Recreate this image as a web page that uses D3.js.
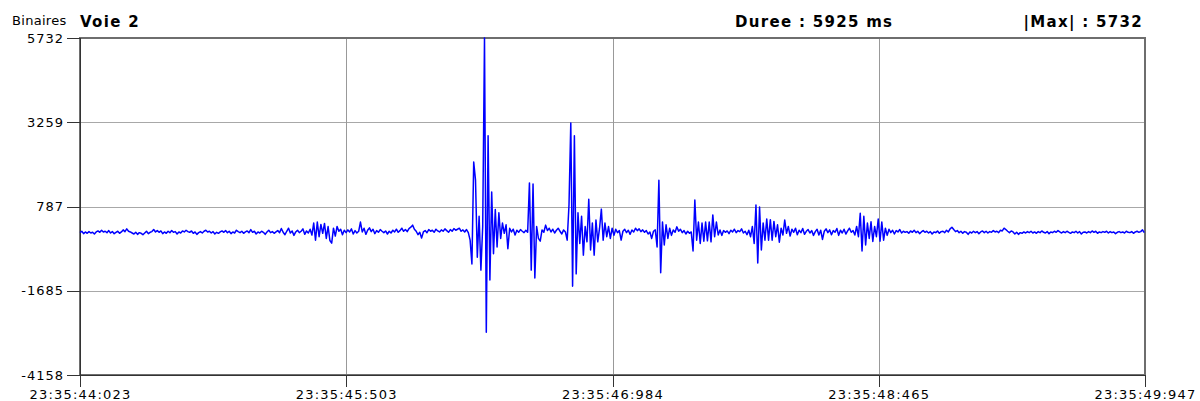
<!DOCTYPE html>
<html>
<head>
<meta charset="utf-8">
<script src="https://cdn.jsdelivr.net/npm/d3@7"></script>
<style>
  body { margin: 0; background: #fff; }
  svg { display: block; }
  text { font-family: "DejaVu Sans", sans-serif; fill: #000; }
</style>
</head>
<body>
<svg id="chart" width="1200" height="401"></svg>
<script>
// Channel header
const channelName = "Voie 2";
const unitLabel = "Binaires";
const durationMs = 5925;
const maxAbs = 5732;

// Time axis (ms from start) and its clock labels
const timeSpanMs = 5924;
const sampleStepMs = 10;
const xTicks = [0, 1481, 2962, 4443, 5924];
const xTickLabels = ["23:35:44:023", "23:35:45:503", "23:35:46:984", "23:35:48:465", "23:35:49:947"];

// Amplitude axis (counts)
const yMin = -4158;
const yMax = 5732;
const yTicks = [5732, 3259, 787, -1685, -4158];

// Recorded counts, one value every 10 ms (ten per row = 100 ms)
const samples = [
  20, 60, -10, 40, 0, 50, 10, 30, -20, 40,
  70, 30, 90, 40, 60, 20, 80, 10, 50, -10,
  30, 60, 0, 40, 100, 50, 130, 60, 40, 10,
  -20, 30, -30, 20, 0, -40, 10, 60, -10, 30,
  50, 110, 40, 80, 30, 70, -10, 40, 0, 60,
  20, 80, 30, 50, -20, 40, 10, 70, 40, 90,
  50, 30, 70, 0, 40, -30, 20, 50, 10, 60,
  90, 40, 60, 10, 50, -20, 30, 0, 40, 70,
  30, 80, 20, 60, -10, 40, 10, 90, 50, 20,
  60, 0, 40, 70, 20, 110, 30, 60, -20, 40,
  10, 60, 30, -30, 40, 90, 20, 50, 0, 40,
  80, 20, 140, 30, -40, 60, 150, 10, 70, -60,
  40, 90, 20, 60, 130, -30, 70, 10, 120, -50,
  300, -200, 330, -100, 260, 0, 290, -150, 200, -210,
  -290, 150, -80, 200, 60, 120, -40, 90, 20, 100,
  40, 130, -20, 80, 10, 60, 330, 40, 150, -30,
  90, 160, 50, 120, -10, 80, 30, 110, 60, 20,
  70, -20, 60, 10, 90, 40, 120, 30, 80, 150,
  60, 110, 50, 140, 180, 240, 120, 60, -40, 30,
  -140, 40, 80, 20, 110, 60, 90, 30, 120, 70,
  40, 100, 60, 130, 80, 30, 110, 60, 140, 90,
  120, 150, 60, 100, 40, 110, 20, -200, -900, 2090,
  1560, -700, 500, -1080, 200, 5732, -2900, 2860, -1370, 1210,
  -600, 700, -400, 600, -150, 300, 0, 250, -450, 150,
  40, 120, -50, 90, 30, 110, 60, 20, 90, 30,
  1480, -1080, 1450, -1310, 200, -150, -230, 100, 30, 240,
  80, 150, 40, 120, 10, 90, 150, 60, -20, 100,
  40, -200, 830, 3240, -1550, 2860, -1190, 600, -300, 500,
  -640, 200, -250, 1000, -490, 300, -640, 390, -250, 150,
  710, -200, 300, -100, 200, -150, 150, -60, 120, 20,
  80, -200, 60, 120, 20, 90, -30, 100, 40, 150,
  80, 130, 50, 100, 30, 80, -20, 40, -150, 60,
  100, -400, 1560, -1160, 330, -340, 250, -150, 150, -60,
  100, 30, 190, 60, 120, 20, 80, -20, 60, 0,
  40, -520, 980, -200, 330, -300, 300, -230, 330, -220,
  330, -250, 540, -100, 330, -50, 100, -60, 80, 30,
  70, -10, 90, 40, 120, 20, 80, 50, 130, 10,
  60, -40, 90, -100, 200, -300, 830, -870, 770, -490,
  300, -200, 420, -200, 400, -200, 350, -100, 250, -260,
  150, -50, 390, 0, 200, -80, 120, 30, 150, -40,
  90, 20, 140, -30, 60, 110, 10, 80, -60, 50,
  120, -50, 90, -180, 60, 130, 20, 100, -40, 80,
  30, 140, -60, 90, 10, 120, -20, 70, 150, 30,
  80, -50, 200, -100, 590, -520, 500, -340, 300, -150,
  340, -240, 200, -100, 420, -230, 330, -200, 150, -60,
  120, 20, 90, -20, 80, 40, 110, 10, 60, 30,
  50, 0, 70, 30, 90, 20, 60, -10, 40, 80,
  30, 60, 10, 50, -20, 40, 20, 70, 0, 50,
  60, 20, 90, 40, 130, 180, 110, 50, 80, 20,
  60, 0, 50, 30, -30, 40, 10, 60, 20, 50,
  -10, 40, 70, 20, 60, 10, 50, 30, 80, 40,
  60, 20, 90, 70, 150, 110, 60, 20, 70, 40,
  -20, 30, -30, 20, 0, 40, 10, 50, 20, 60,
  10, 40, 0, 50, 20, 70, 30, 10, 50, -10,
  40, 20, 60, 30, 80, 40, 10, 50, 20, 60,
  30, 0, 40, 20, 60, 10, 50, -20, 30, 40,
  10, 50, 20, 70, 30, 60, 0, 40, 20, 50,
  30, 60, 10, 50, 20, 40, -10, 30, 50, 20,
  40, 10, 60, 30, 20, 50, 0, 40, 60, 30,
  50, 100, 20
];

const svg = d3.select("#chart");
const plot = { left: 80, right: 1145, top: 38, bottom: 375 };

const x = d3.scaleLinear().domain([0, timeSpanMs]).range([plot.left, plot.right]);
const y = d3.scaleLinear().domain([yMin, yMax]).range([plot.bottom, plot.top]);

// Grid lines
const grid = svg.append("g").attr("shape-rendering", "crispEdges");
grid.selectAll("line.h")
  .data(yTicks.slice(1, -1))
  .join("line")
  .attr("x1", plot.left).attr("x2", plot.right)
  .attr("y1", d => Math.round(y(d))).attr("y2", d => Math.round(y(d)))
  .attr("stroke", "#a8a8a8");
grid.selectAll("line.v")
  .data(xTicks.slice(1, -1))
  .join("line")
  .attr("x1", d => Math.round(x(d))).attr("x2", d => Math.round(x(d)))
  .attr("y1", plot.top).attr("y2", plot.bottom)
  .attr("stroke", "#999");

// Frame
svg.append("rect")
  .attr("x", plot.left).attr("y", plot.top)
  .attr("width", plot.right - plot.left).attr("height", plot.bottom - plot.top)
  .attr("fill", "none").attr("stroke", "#6e6e6e").attr("stroke-width", 1.3)
  .attr("shape-rendering", "crispEdges");

// Axes
const yAxis = d3.axisLeft(y)
  .tickValues(yTicks)
  .tickFormat(d => String(d))
  .tickSize(13)
  .tickPadding(3);
const gy = svg.append("g")
  .attr("transform", `translate(${plot.left},0)`)
  .call(yAxis);
gy.select(".domain").attr("stroke", "#333").attr("shape-rendering", "crispEdges");
gy.selectAll(".tick line").attr("stroke", "#333").attr("shape-rendering", "crispEdges");
gy.selectAll(".tick text")
  .attr("font-size", 13).attr("letter-spacing", "1px")
  .attr("font-family", "DejaVu Sans").attr("fill", "#000");

const xAxis = d3.axisBottom(x)
  .tickValues(xTicks)
  .tickFormat((d, i) => xTickLabels[i])
  .tickSize(12)
  .tickPadding(3);
const gx = svg.append("g")
  .attr("transform", `translate(0,${plot.bottom})`)
  .call(xAxis);
gx.select(".domain").attr("stroke", "#333").attr("shape-rendering", "crispEdges");
gx.selectAll(".tick line").attr("stroke", "#333").attr("shape-rendering", "crispEdges");
gx.selectAll(".tick text")
  .attr("font-size", 13).attr("letter-spacing", "1.2px")
  .attr("font-family", "DejaVu Sans").attr("fill", "#000");

// Waveform
const line = d3.line()
  .x((d, i) => x(i * sampleStepMs))
  .y(d => y(d));
svg.append("path")
  .datum(samples)
  .attr("d", line)
  .attr("fill", "none")
  .attr("stroke", "#0000ff")
  .attr("stroke-width", 1.5)
  .attr("stroke-linejoin", "round");

// Header
svg.append("text").attr("x", 12).attr("y", 25)
  .attr("font-size", 13).attr("letter-spacing", "0.3px")
  .text(unitLabel);
svg.append("text").attr("x", 80).attr("y", 27)
  .attr("font-size", 15).attr("font-weight", "bold").attr("letter-spacing", "1.3px")
  .text(channelName);
svg.append("text").attr("x", 735).attr("y", 27)
  .attr("font-size", 15).attr("font-weight", "bold").attr("letter-spacing", "1.3px")
  .text(`Duree : ${durationMs} ms`);
svg.append("text").attr("x", 1143).attr("y", 27)
  .attr("text-anchor", "end")
  .attr("font-size", 15).attr("font-weight", "bold").attr("letter-spacing", "1.3px")
  .text(`|Max| : ${maxAbs}`);
</script>
</body>
</html>
